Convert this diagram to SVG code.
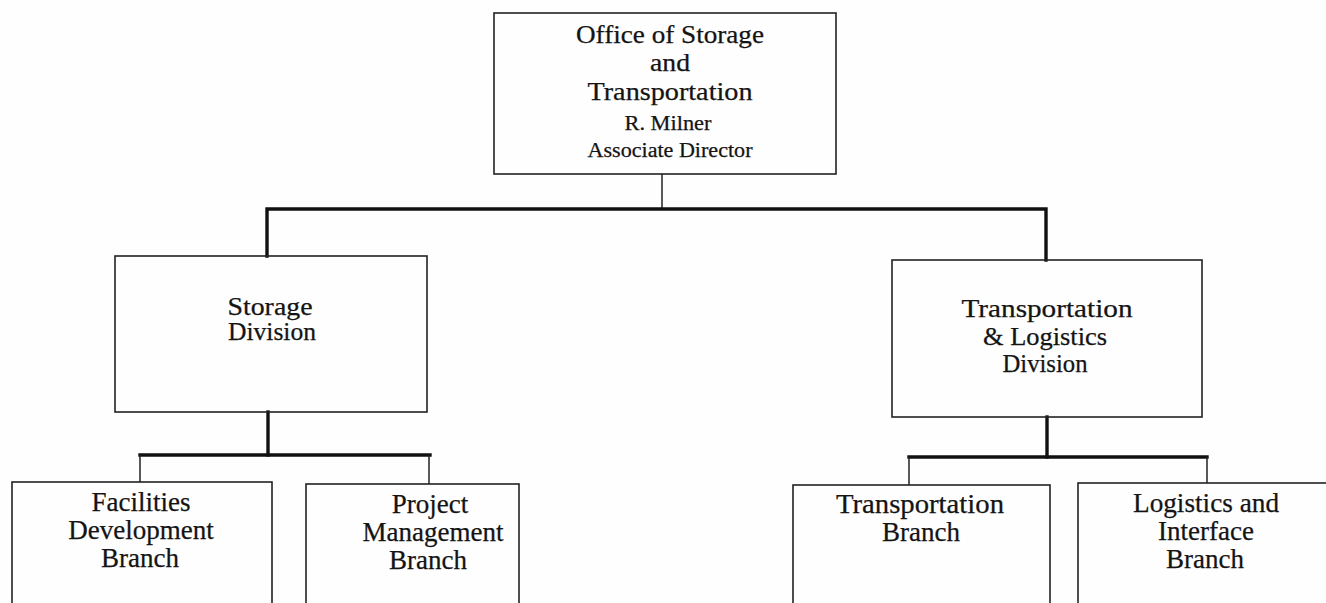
<svg xmlns="http://www.w3.org/2000/svg" width="1326" height="603" viewBox="0 0 1326 603">
  <style>
    .box { fill: none; stroke: #222; stroke-width: 1.6; }
    .t { font-family: "Liberation Serif", "Times New Roman", serif; fill: #141414; stroke: #141414; stroke-width: 0.25; text-anchor: middle; }
    .big { font-size: 25px; }
    .small { font-size: 20px; }
    .mid { font-size: 25px; }
    .low { font-size: 27px; }
    .bar { fill: none; stroke: #111; stroke-width: 3.4; stroke-linecap: square; }
    .thin { fill: none; stroke: #222; stroke-width: 1.5; }
  </style>
  <rect width="1326" height="603" fill="#fefefe"/>

  <!-- connectors -->
  <g id="connectors">
    <line class="thin" x1="662" y1="174" x2="662" y2="209" stroke-width="1.1"/>
    <path class="bar" d="M267,256 V209 H1046 V260"/>
    <path class="bar" d="M268,412 V455"/>
    <path class="bar" d="M140,455 H430"/>
    <line class="thin" x1="140" y1="455" x2="140" y2="482"/>
    <line class="thin" x1="429" y1="455" x2="429" y2="484"/>
    <path class="bar" d="M1047,417 V457" stroke-width="2.8"/>
    <path class="bar" d="M909,457 H1207" stroke-width="2.8"/>
    <line class="thin" x1="909" y1="457" x2="909" y2="485"/>
    <line class="thin" x1="1207" y1="457" x2="1207" y2="483"/>
  </g>

  <!-- head office -->
  <g id="office">
    <rect class="box" x="494" y="13" width="342" height="161"/>
    <text class="t big" x="670" y="43" textLength="188" lengthAdjust="spacingAndGlyphs">Office of Storage</text>
    <text class="t big" x="670" y="71" textLength="40" lengthAdjust="spacingAndGlyphs">and</text>
    <text class="t big" x="670" y="100" textLength="165" lengthAdjust="spacingAndGlyphs">Transportation</text>
    <text class="t small" x="668" y="130" textLength="87" lengthAdjust="spacingAndGlyphs">R. Milner</text>
    <text class="t small" x="670" y="157" textLength="165" lengthAdjust="spacingAndGlyphs">Associate Director</text>
  </g>

  <!-- divisions -->
  <g id="storage-division">
    <rect class="box" x="115" y="256" width="312" height="156"/>
    <text class="t mid" x="270" y="315" textLength="85" lengthAdjust="spacingAndGlyphs">Storage</text>
    <text class="t mid" x="272" y="340" textLength="88" lengthAdjust="spacingAndGlyphs">Division</text>
  </g>

  <g id="transport-logistics-division">
    <rect class="box" x="892" y="260" width="310" height="157"/>
    <text class="t mid" x="1047" y="317" textLength="171" lengthAdjust="spacingAndGlyphs">Transportation</text>
    <text class="t mid" x="1045" y="345" textLength="124" lengthAdjust="spacingAndGlyphs">&amp; Logistics</text>
    <text class="t mid" x="1045" y="372" textLength="85" lengthAdjust="spacingAndGlyphs">Division</text>
  </g>

  <!-- branches -->
  <g id="facilities-branch">
    <rect class="box" x="12" y="482" width="260" height="140"/>
    <text class="t low" x="141" y="511">Facilities</text>
    <text class="t low" x="141" y="539">Development</text>
    <text class="t low" x="140" y="567">Branch</text>
  </g>

  <g id="project-branch">
    <rect class="box" x="306" y="484" width="213" height="140"/>
    <text class="t low" x="430" y="513">Project</text>
    <text class="t low" x="433" y="541">Management</text>
    <text class="t low" x="428" y="569">Branch</text>
  </g>

  <g id="transportation-branch">
    <rect class="box" x="793" y="485" width="257" height="140"/>
    <text class="t low" x="920" y="513" textLength="168" lengthAdjust="spacingAndGlyphs">Transportation</text>
    <text class="t low" x="921" y="541">Branch</text>
  </g>

  <g id="logistics-branch">
    <rect class="box" x="1078" y="483" width="270" height="140"/>
    <text class="t low" x="1206" y="512" textLength="146" lengthAdjust="spacingAndGlyphs">Logistics and</text>
    <text class="t low" x="1206" y="540">Interface</text>
    <text class="t low" x="1205" y="568">Branch</text>
  </g>
</svg>
